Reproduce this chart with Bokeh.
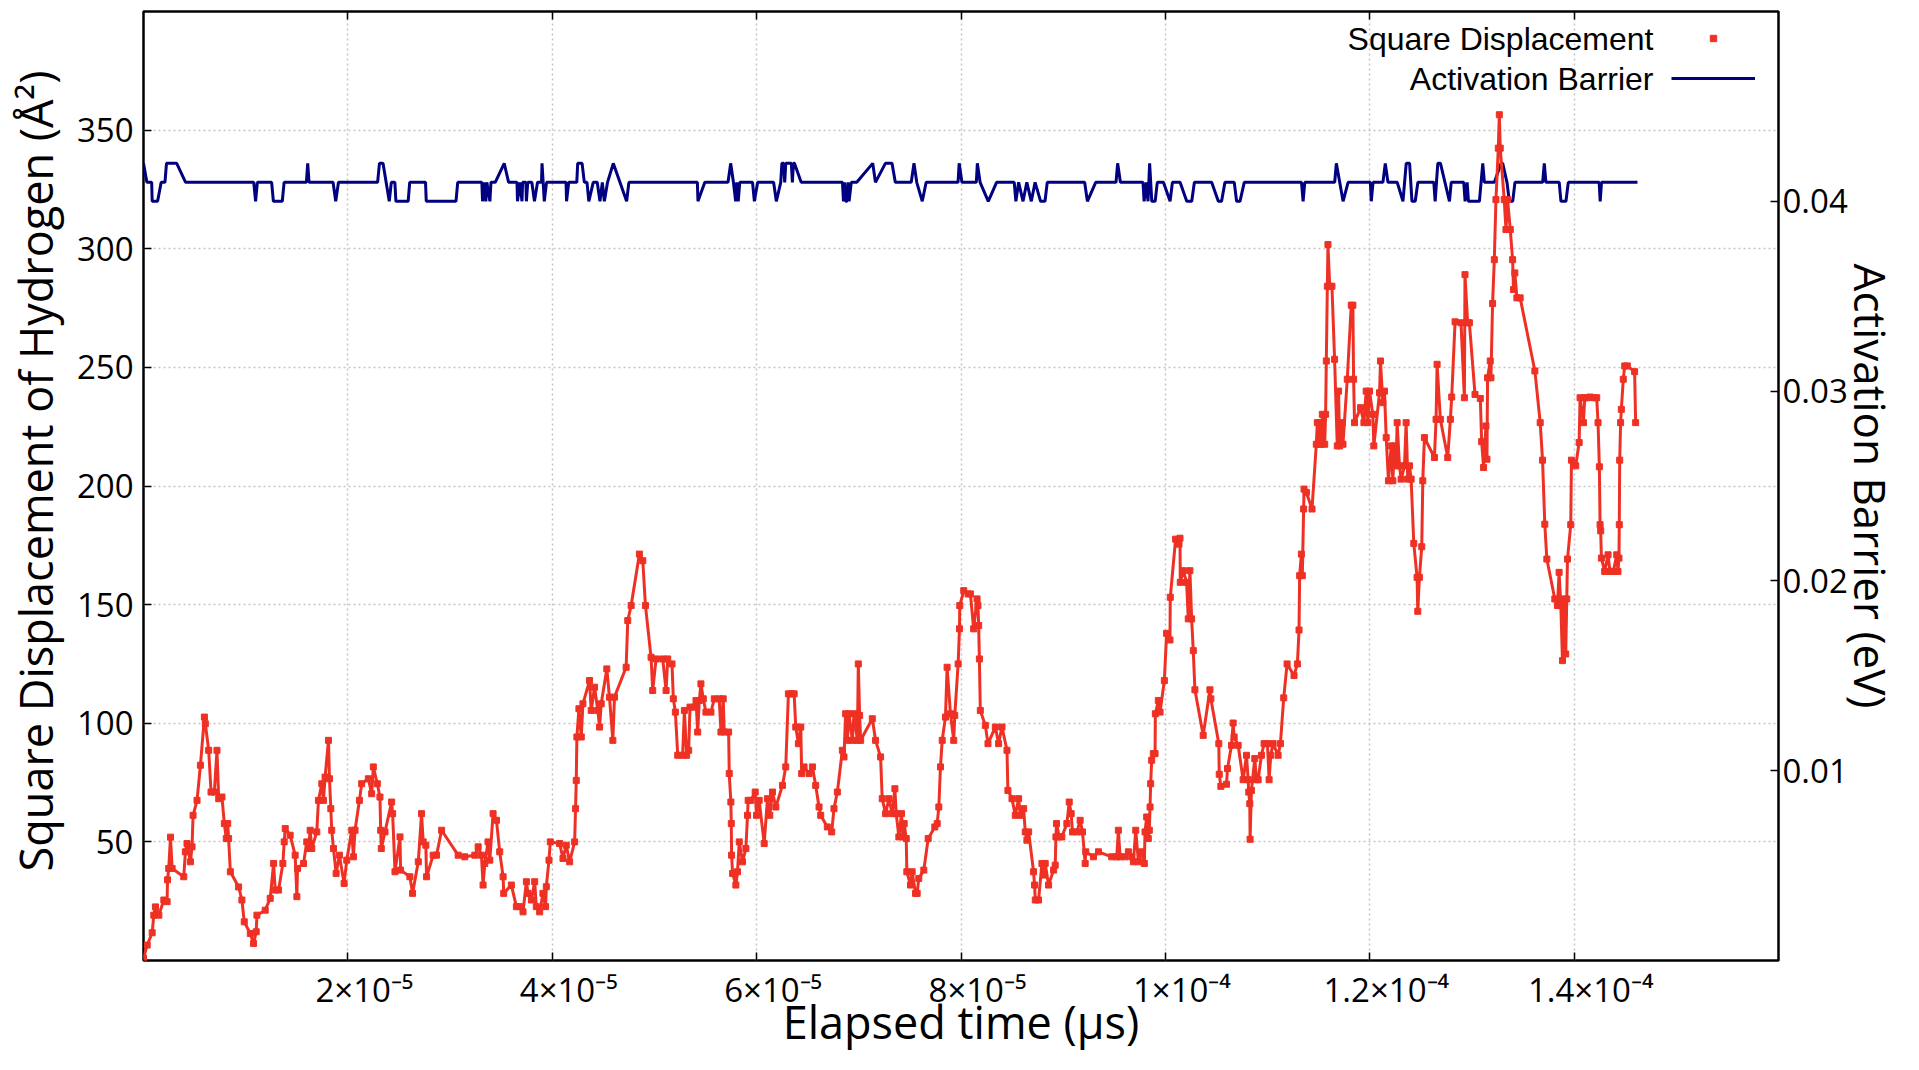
import math
from bokeh.plotting import figure
from bokeh.models import (Range1d, LinearAxis, FixedTicker, Label, Legend,
                          LegendItem, ColumnDataSource)
from bokeh.embed import file_html
from bokeh.resources import INLINE

# ---------------- data (time in units of 1e-5 microseconds) ----------------
sd_time_e5 = [
    0.000, 0.036, 0.085, 0.101, 0.117, 0.150, 0.199, 0.231, 0.235, 0.247, 0.264, 0.280,
    0.394, 0.410, 0.426, 0.459, 0.475, 0.485, 0.524, 0.557, 0.596, 0.605, 0.638, 0.661,
    0.693, 0.719, 0.736, 0.768, 0.791, 0.810, 0.824, 0.833, 0.850, 0.931, 0.963, 0.986,
    1.045, 1.077, 1.103, 1.110, 1.191, 1.240, 1.273, 1.289, 1.322, 1.364, 1.377, 1.387,
    1.435, 1.484, 1.501, 1.507, 1.566, 1.598, 1.614, 1.631, 1.647, 1.696, 1.712, 1.745,
    1.761, 1.777, 1.810, 1.820, 1.833, 1.842, 1.859, 1.885, 1.917, 1.963, 1.989, 2.038,
    2.054, 2.070, 2.113, 2.135, 2.200, 2.233, 2.249, 2.288, 2.314, 2.321, 2.327, 2.363,
    2.428, 2.438, 2.461, 2.510, 2.516, 2.607, 2.633, 2.689, 2.721, 2.737, 2.763, 2.770,
    2.835, 2.868, 2.917, 3.079, 3.144, 3.242, 3.275, 3.307, 3.323, 3.340, 3.372, 3.389,
    3.421, 3.454, 3.486, 3.519, 3.525, 3.600, 3.649, 3.681, 3.714, 3.747, 3.763, 3.796,
    3.828, 3.844, 3.877, 3.909, 3.935, 3.942, 3.968, 3.981, 4.072, 4.105, 4.137, 4.170,
    4.219, 4.228, 4.235, 4.241, 4.261, 4.284, 4.300, 4.365, 4.381, 4.414, 4.446, 4.463,
    4.479, 4.534, 4.560, 4.593, 4.609, 4.723, 4.739, 4.772, 4.853, 4.886, 4.912, 4.967,
    4.983, 5.016,
    5.081, 5.114, 5.130, 5.172, 5.185, 5.205, 5.228, 5.276, 5.293, 5.315, 5.335, 5.348,
    5.390, 5.407, 5.423, 5.439, 5.455, 5.478, 5.504, 5.553, 5.586, 5.634, 5.651, 5.673,
    5.683, 5.726, 5.732, 5.748, 5.752, 5.755, 5.765, 5.797, 5.813, 5.830, 5.862, 5.895,
    5.911, 5.917, 5.943, 5.986, 5.999, 6.025, 6.074, 6.106, 6.129, 6.155, 6.188, 6.253,
    6.285, 6.311, 6.344, 6.367, 6.383, 6.409, 6.432, 6.441, 6.464, 6.513, 6.546, 6.578,
    6.611, 6.627, 6.692, 6.735, 6.757, 6.790, 6.839, 6.855, 6.871, 6.888, 6.904, 6.937,
    6.953, 6.986, 6.995, 7.008, 7.018, 7.132, 7.164, 7.213, 7.229, 7.262, 7.295, 7.327,
    7.353, 7.366, 7.392, 7.418, 7.431, 7.444, 7.464, 7.470, 7.506, 7.522, 7.555, 7.571,
    7.587, 7.636, 7.679, 7.744, 7.767, 7.783, 7.799, 7.816, 7.848, 7.864, 7.897, 7.929,
    7.939, 7.972, 7.985, 7.988, 8.027, 8.069, 8.092, 8.124, 8.157, 8.166, 8.173, 8.180,
    8.189, 8.238, 8.264, 8.336, 8.368, 8.401, 8.450, 8.459, 8.499, 8.531, 8.564, 8.580,
    8.613, 8.629, 8.645, 8.662, 8.710, 8.720, 8.727, 8.759, 8.792, 8.808, 8.824, 8.857,
    8.906, 8.922, 8.929, 8.935, 8.961, 8.987, 9.036, 9.059, 9.078, 9.091, 9.134, 9.166,
    9.189, 9.215, 9.221, 9.296, 9.345, 9.475, 9.524, 9.540, 9.557, 9.605, 9.638, 9.671,
    9.687, 9.710, 9.736, 9.768, 9.794, 9.801, 9.817, 9.833, 9.843, 9.850, 9.856, 9.866,
    9.882, 9.899, 9.902, 9.931, 9.948, 9.990,
    10.012, 10.045, 10.048, 10.100, 10.133, 10.143, 10.146, 10.175, 10.208, 10.224,
    10.240, 10.257, 10.273, 10.289, 10.370, 10.436, 10.445, 10.523, 10.527, 10.543,
    10.598, 10.608, 10.647, 10.663, 10.673, 10.712, 10.761, 10.794, 10.810, 10.816,
    10.826, 10.829, 10.842, 10.875, 10.891, 10.908, 10.940, 10.966, 10.999, 11.015,
    11.031, 11.054, 11.103, 11.126, 11.158, 11.191, 11.259, 11.292, 11.308, 11.314,
    11.331, 11.340, 11.353, 11.357, 11.380, 11.435, 11.477, 11.487, 11.500, 11.516,
    11.526, 11.536, 11.559, 11.568, 11.575, 11.585, 11.591, 11.608, 11.630, 11.656,
    11.682, 11.695, 11.705, 11.731, 11.738, 11.780, 11.819, 11.835, 11.842, 11.851,
    11.910, 11.943, 11.965, 11.982, 11.998, 12.030, 12.040, 12.096, 12.105, 12.128,
    12.144, 12.161, 12.183, 12.210, 12.226, 12.242, 12.258, 12.268, 12.291, 12.307,
    12.340, 12.356, 12.372, 12.389, 12.405, 12.431, 12.463, 12.470, 12.486, 12.509,
    12.519, 12.535, 12.633, 12.649, 12.659, 12.691, 12.763, 12.789, 12.802, 12.835,
    12.893, 12.926, 12.932, 12.958, 12.975, 13.030, 13.082, 13.095, 13.114, 13.137,
    13.147, 13.153, 13.179, 13.186, 13.202, 13.219, 13.235, 13.258, 13.268, 13.277,
    13.316, 13.333, 13.349, 13.375, 13.398, 13.407, 13.420, 13.440, 13.472, 13.616,
    13.668, 13.691, 13.713, 13.733, 13.811, 13.837, 13.853, 13.870, 13.886, 13.902,
    13.918, 13.928, 13.935, 13.967, 13.974, 14.016, 14.049, 14.058, 14.091, 14.104,
    14.130, 14.156, 14.195, 14.221, 14.234, 14.247, 14.254, 14.260, 14.267, 14.299,
    14.332, 14.351, 14.384, 14.417, 14.429, 14.439, 14.442, 14.446, 14.455, 14.462,
    14.481, 14.495, 14.521, 14.592, 14.602,
]
sd_value = [
    1.0, 6.5, 11.7, 19.1, 22.6, 19.1, 25.5, 24.8, 34.0, 38.8, 52.0, 38.8,
    35.3, 45.8, 49.3, 41.6, 47.9, 61.2, 67.5, 82.3, 102.6, 99.8, 88.6, 71.0,
    71.0, 88.6, 68.2, 68.9, 57.7, 51.4, 57.7, 51.4, 37.4, 31.0, 25.5, 16.3,
    11.4, 7.2, 12.1, 19.1, 21.2, 26.2, 40.9, 29.7, 29.7, 40.9, 50.0, 55.6,
    52.8, 44.4, 26.9, 38.8, 40.9, 50.0, 47.2, 54.9, 47.2, 54.2, 67.5, 74.5,
    67.5, 77.3, 92.8, 76.6, 64.0, 54.9, 47.2, 36.7, 44.4, 32.5, 42.3, 54.9,
    43.7, 54.9, 67.5, 74.5, 76.6, 70.3, 81.6, 74.5, 68.9, 54.9, 47.2, 54.2,
    66.8, 61.9, 37.4, 52.1, 38.1, 35.3, 28.3, 41.6, 61.9, 50.0, 48.6, 35.3,
    44.4, 44.4, 54.9, 44.4, 43.7, 44.4, 47.9, 44.4, 31.8, 40.9, 50.0, 42.3,
    61.9, 59.1, 45.8, 35.3, 28.3, 31.8, 22.7, 22.7, 20.5, 33.2, 28.3, 25.5,
    33.2, 22.7, 20.5, 28.3, 22.7, 31.1, 42.3, 50.0, 49.3, 43.0, 48.6, 41.6,
    50.0, 64.0, 75.9, 94.2, 106.1, 94.2, 108.2, 118.0, 105.4, 115.2, 105.4, 98.4,
    108.2, 122.9, 111.0, 92.8, 111.0, 123.6, 143.3, 149.6, 171.3, 168.5, 149.6, 127.8,
    113.8, 127.1,
    127.1, 113.8, 127.1, 125.0, 110.3, 104.7, 86.5, 86.5, 105.4, 86.5, 88.6, 106.8,
    106.8, 109.6, 96.3, 109.6, 116.6, 110.3, 104.7, 104.7, 110.3, 110.3, 96.3, 110.3,
    96.3, 96.3, 78.8, 66.8, 57.7, 44.4, 36.7, 31.8, 37.4, 50.0, 41.6, 47.2,
    61.2, 67.5, 67.5, 71.0, 61.2, 67.5, 49.3, 68.2, 61.2, 71.0, 64.7, 73.8,
    81.6, 112.4, 112.4, 112.4, 98.4, 91.4, 98.4, 78.8, 81.6, 78.8, 81.6, 73.8,
    64.7, 61.2, 56.3, 54.2, 64.0, 71.0, 88.6, 85.8, 104.0, 92.8, 104.0, 92.8,
    104.0, 92.8, 125.0, 103.3, 92.8, 101.9, 92.8, 85.8, 68.2, 61.9, 68.2, 61.9,
    72.4, 61.9, 52.1, 61.9, 52.1, 57.7, 51.4, 37.4, 31.8, 37.4, 28.3, 28.3,
    34.6, 38.1, 51.4, 56.3, 57.7, 64.7, 81.6, 92.8, 102.6, 123.6, 104.0, 92.8,
    103.3, 125.0, 139.8, 149.6, 155.9, 154.5, 154.5, 139.8, 152.4, 149.6, 141.2, 127.1,
    105.4, 99.1, 91.4, 98.4, 91.4, 98.4, 88.6, 71.7, 68.2, 61.2, 68.2, 61.2,
    64.0, 54.2, 50.7, 54.2, 37.4, 31.8, 25.5, 25.5, 40.9, 36.0, 40.9, 31.8,
    38.1, 40.2, 52.1, 57.7, 52.1, 52.1, 57.7, 66.8, 61.9, 54.2, 54.2, 59.1,
    54.2, 40.9, 45.8, 43.7, 45.8, 43.7, 43.7, 54.9, 43.7, 43.7, 45.8, 43.7,
    41.6, 54.9, 41.6, 45.8, 40.9, 54.2, 60.5, 51.4, 54.9, 64.7, 74.5, 84.4,
    87.2, 87.2, 104.0, 109.6, 104.7, 118.0,
    137.9, 135.1, 153.1, 177.6, 175.5, 178.0, 159.4, 164.3, 159.4, 144.0,
    164.3, 144.0, 130.6, 114.1, 94.9, 114.1, 110.3, 91.4, 78.5, 73.4,
    74.3, 80.9, 90.7, 100.1, 94.2, 90.7, 76.2, 86.5, 76.2, 71.0,
    66.1, 51.1, 71.7, 85.1, 76.2, 76.2, 86.5, 91.4, 91.4, 76.2,
    86.5, 91.4, 86.5, 91.4, 110.7, 125.0, 120.1, 125.0, 139.3, 162.2,
    171.3, 162.2, 190.3, 198.7, 197.3, 190.3, 217.6, 226.7, 217.6, 226.7,
    217.6, 230.2, 217.6, 230.2, 252.7, 284.2, 301.8, 284.2, 284.2, 253.4,
    216.9, 240.0, 216.9, 226.7, 217.6, 245.0, 276.2, 276.2, 245.0, 226.7,
    233.0, 226.7, 240.0, 226.7, 240.0, 230.2, 216.9, 239.3, 252.7, 235.1,
    240.0, 220.4, 202.2, 216.9, 202.2, 216.9, 208.5, 226.7, 208.5, 202.9,
    208.5, 226.7, 202.9, 208.5, 202.9, 175.8, 161.5, 147.2, 161.5, 174.4,
    202.2, 220.4, 212.0, 228.1, 251.3, 228.1, 212.0, 228.1, 237.5, 269.2,
    268.8, 237.2, 289.1, 268.8, 268.8, 238.6, 236.9, 218.7, 207.8, 225.3,
    211.3, 245.6, 252.7, 245.6, 276.9, 295.4, 320.7, 342.4, 356.5, 342.4,
    320.7, 308.1, 320.7, 308.1, 295.4, 282.8, 289.8, 279.3, 279.3, 248.5,
    226.7, 210.9, 183.9, 169.2, 152.4, 149.6, 163.6, 149.6, 126.4, 152.4,
    129.2, 152.4, 169.2, 183.7, 210.9, 208.5, 218.3, 237.2, 226.7, 237.2,
    237.2, 237.5, 237.2, 237.2, 226.7, 208.1, 183.7, 181.1, 169.6, 164.0,
    171.0, 164.0, 164.0, 171.0, 164.0, 169.6, 183.7, 210.9, 226.7, 232.3,
    245.0, 250.6, 250.6, 248.2, 226.7,
]

eb_time_e5 = [
    0.000, 0.033, 0.080, 0.085, 0.138, 0.173, 0.210, 0.225, 0.325, 0.412,
    1.079, 1.097, 1.114, 1.254, 1.271, 1.358, 1.376, 1.594, 1.607, 1.620,
    1.855, 1.881, 1.908, 2.291, 2.309, 2.344, 2.405, 2.425, 2.460, 2.470,
    2.590, 2.605, 2.760, 2.767, 3.058, 3.075, 3.311, 3.318, 3.333, 3.350,
    3.360, 3.390, 3.400, 3.442, 3.530, 3.573, 3.655, 3.660, 3.682, 3.704,
    3.710, 3.742, 3.747, 3.760, 3.800, 3.826, 3.856, 3.895, 3.900, 3.922,
    3.944, 4.135, 4.140, 4.161, 4.240, 4.249, 4.292, 4.314, 4.340, 4.358,
    4.401, 4.440, 4.467, 4.490, 4.510, 4.541, 4.597, 4.728, 4.750, 5.420,
    5.426, 5.493, 5.720, 5.746, 5.773, 5.795, 5.805, 5.820, 5.835, 5.960,
    5.978, 6.010, 6.166, 6.193, 6.236, 6.247, 6.265, 6.275, 6.285, 6.340,
    6.350, 6.360, 6.370, 6.436, 6.597, 6.840, 6.850, 6.860, 6.872, 6.885,
    6.894, 6.905, 6.926, 6.980, 7.136, 7.163, 7.260, 7.325, 7.357, 7.513,
    7.540, 7.567, 7.621, 7.659, 7.971, 7.982, 8.009, 8.150, 8.160, 8.187,
    8.267, 8.348, 8.521, 8.537, 8.564, 8.607, 8.644, 8.688, 8.725, 8.779,
    8.822, 8.844, 9.210, 9.237, 9.318, 9.517, 9.533, 9.560, 9.781, 9.792,
    9.813, 9.830, 9.846, 9.867, 9.900, 9.921, 9.981, 10.046, 10.069, 10.144,
    10.209, 10.258, 10.284, 10.453, 10.518, 10.550, 10.583, 10.674, 10.697, 10.730,
    10.772, 11.332, 11.348, 11.364, 11.657, 11.673, 11.706, 11.739, 11.788, 12.006,
    12.015, 12.032, 12.129, 12.152, 12.178, 12.269, 12.325, 12.357, 12.390, 12.413,
    12.445, 12.471, 12.627, 12.640, 12.666, 12.692, 12.780, 12.797, 12.920, 12.933,
    12.953, 12.966, 13.073, 13.106, 13.122, 13.220, 13.285, 13.301, 13.343, 13.366,
    13.399, 13.421, 13.692, 13.708, 13.724, 13.854, 13.871, 13.920, 13.943, 14.245,
    14.255, 14.268, 14.620,
]
eb_value = [
    0.042, 0.041, 0.041, 0.040, 0.040, 0.041, 0.041, 0.042, 0.042, 0.041,
    0.041, 0.040, 0.041, 0.041, 0.040, 0.040, 0.041, 0.041, 0.042, 0.041,
    0.041, 0.040, 0.041, 0.041, 0.042, 0.042, 0.040, 0.041, 0.041, 0.040,
    0.040, 0.041, 0.041, 0.040, 0.040, 0.041, 0.041, 0.040, 0.041, 0.040,
    0.041, 0.040, 0.041, 0.041, 0.042, 0.041, 0.041, 0.040, 0.041, 0.040,
    0.041, 0.041, 0.040, 0.041, 0.041, 0.040, 0.041, 0.041, 0.042, 0.040,
    0.041, 0.041, 0.040, 0.041, 0.041, 0.042, 0.042, 0.041, 0.041, 0.040,
    0.041, 0.041, 0.040, 0.041, 0.040, 0.041, 0.042, 0.040, 0.041, 0.041,
    0.040, 0.041, 0.041, 0.042, 0.041, 0.040, 0.041, 0.040, 0.041, 0.041,
    0.040, 0.041, 0.041, 0.040, 0.041, 0.042, 0.042, 0.041, 0.042, 0.042,
    0.041, 0.042, 0.042, 0.041, 0.041, 0.041, 0.040, 0.041, 0.040, 0.040,
    0.041, 0.040, 0.041, 0.041, 0.042, 0.041, 0.042, 0.042, 0.041, 0.041,
    0.042, 0.041, 0.040, 0.041, 0.041, 0.042, 0.041, 0.041, 0.042, 0.041,
    0.040, 0.041, 0.041, 0.040, 0.041, 0.040, 0.041, 0.040, 0.041, 0.040,
    0.040, 0.041, 0.041, 0.040, 0.041, 0.041, 0.042, 0.041, 0.041, 0.040,
    0.041, 0.040, 0.042, 0.040, 0.040, 0.041, 0.041, 0.040, 0.041, 0.041,
    0.040, 0.040, 0.041, 0.041, 0.040, 0.040, 0.041, 0.041, 0.040, 0.040,
    0.041, 0.041, 0.040, 0.041, 0.041, 0.042, 0.041, 0.040, 0.041, 0.041,
    0.040, 0.041, 0.041, 0.042, 0.041, 0.041, 0.040, 0.042, 0.042, 0.040,
    0.040, 0.041, 0.041, 0.040, 0.042, 0.042, 0.040, 0.041, 0.041, 0.040,
    0.041, 0.040, 0.040, 0.042, 0.041, 0.041, 0.042, 0.042, 0.041, 0.040,
    0.040, 0.041, 0.041, 0.042, 0.041, 0.041, 0.040, 0.040, 0.041, 0.041,
    0.040, 0.041, 0.041,
]

x_ticks = [2e-05, 4e-05, 6e-05, 8e-05, 1e-04, 1.2e-04, 1.4e-04]
x_tick_labels = ["2×10⁻⁵", "4×10⁻⁵", "6×10⁻⁵", "8×10⁻⁵", "1×10⁻⁴", "1.2×10⁻⁴", "1.4×10⁻⁴"]
y_ticks = [50, 100, 150, 200, 250, 300, 350]
y2_ticks = [0.01, 0.02, 0.03, 0.04]

RED = "#ee3124"
NAVY = "#000080"
TICK_FONT = "Open Sans"
LABEL_FONT = "Open Sans"

sd_src = ColumnDataSource(dict(t=[v * 1e-5 for v in sd_time_e5], y=sd_value))
eb_src = ColumnDataSource(dict(t=[v * 1e-5 for v in eb_time_e5], y=eb_value))

p = figure(width=1903, height=1054, output_backend="svg", toolbar_location=None,
           x_range=Range1d(0, 1.6e-4), y_range=Range1d(0, 400),
           min_border_left=143, min_border_right=122, min_border_top=11,
           min_border_bottom=94, background_fill_color="white",
           border_fill_color="white")
p.extra_y_ranges = {"eb": Range1d(0, 0.05)}

p.outline_line_color = "black"
p.outline_line_width = 2.5

# grids
for g in (p.xgrid, p.ygrid):
    g.grid_line_color = "#c4c4c4"
    g.grid_line_dash = "2 3"
    g.grid_line_width = 1.5
p.xgrid.ticker = FixedTicker(ticks=x_ticks)
p.ygrid.ticker = FixedTicker(ticks=y_ticks)


def style_axis(ax, standoff, label_size="45px"):
    ax.minor_tick_line_color = None
    ax.major_tick_in = 8
    ax.major_tick_out = 0
    ax.major_tick_line_width = 1.5
    ax.axis_line_color = None
    ax.major_label_standoff = standoff
    ax.major_label_text_font = TICK_FONT
    ax.major_label_text_font_size = "33px"
    ax.major_label_text_color = "black"
    ax.axis_label_text_font = LABEL_FONT
    ax.axis_label_text_font_size = label_size
    ax.axis_label_text_font_style = "normal"
    ax.axis_label_text_color = "black"


# bottom axis
xa = p.xaxis[0]
xa.ticker = FixedTicker(ticks=x_ticks)
xa.major_label_overrides = {t: "\u2002\u2002" + s for t, s in zip(x_ticks, x_tick_labels)}
style_axis(xa, 6)
xa.axis_label = "Elapsed time (μs)"
xa.axis_label_standoff = -24

# left axis
ya = p.yaxis[0]
ya.ticker = FixedTicker(ticks=y_ticks)
style_axis(ya, 10)
ya.axis_label = "\u2002\u2009Square Displacement of Hydrogen (Å²)"
ya.axis_label_standoff = 8

# right axis
ra = LinearAxis(y_range_name="eb", ticker=FixedTicker(ticks=y2_ticks))
style_axis(ra, 4, "44px")
ra.axis_label = "Activation Barrier (eV)"
ra.axis_label_standoff = -10
p.add_layout(ra, "right")

# top mirror ticks
ta = LinearAxis(ticker=FixedTicker(ticks=x_ticks))
ta.major_label_overrides = {t: "" for t in x_ticks}
ta.major_label_text_font_size = "0px"
ta.major_label_standoff = 0
ta.minor_tick_line_color = None
ta.major_tick_in = 8
ta.major_tick_out = 0
ta.major_tick_line_width = 1.5
ta.axis_line_color = None
p.add_layout(ta, "above")

# series
eb_line = p.line("t", "y", source=eb_src, y_range_name="eb", color=NAVY, line_width=3)
sd_line = p.line("t", "y", source=sd_src, color=RED, line_width=3)
sd_pts = p.scatter("t", "y", source=sd_src, marker="square", size=6, color=RED)

# legend (glyphs only; texts placed to the left like the original)
legend = Legend(items=[LegendItem(label=" ", renderers=[sd_pts]),
                       LegendItem(label=" ", renderers=[eb_line])],
                location=(1528, 874), orientation="vertical",
                glyph_width=84, glyph_height=16, spacing=24, padding=0, margin=0,
                label_standoff=0, label_width=0, label_height=16,
                label_text_font_size="8px",
                background_fill_alpha=0, border_line_alpha=0)
p.add_layout(legend)

for txt, yy in (("Square Displacement", 922), ("Activation Barrier", 882)):
    p.add_layout(Label(x=1510, y=yy, x_units="screen", y_units="screen", text=txt,
                       text_font="Liberation Sans", text_font_size="32px",
                       text_align="right", text_baseline="middle", text_color="black"))

open("out.html", "w").write(file_html(p, INLINE))
